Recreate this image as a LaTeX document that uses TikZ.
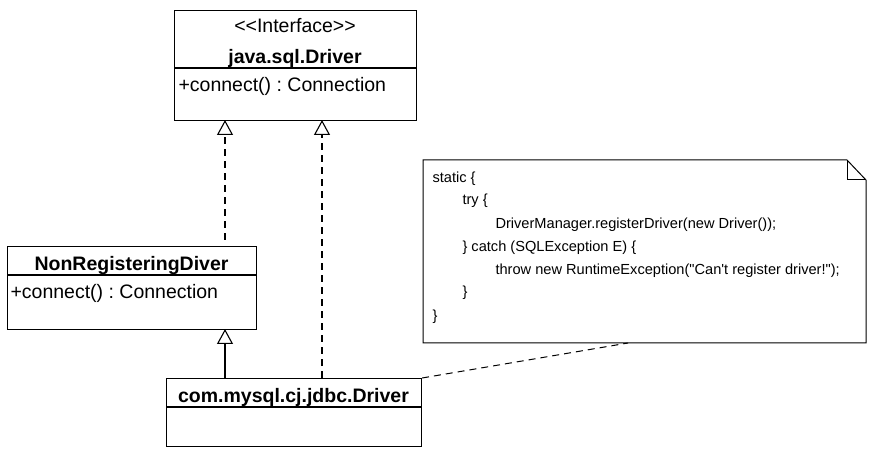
\documentclass[tikz,border=0pt]{standalone}
\usepackage{fontspec}
\setmainfont{Liberation Sans}
\newfontfamily\plainfont{Liberation Sans}
\frenchspacing
\usetikzlibrary{arrows.meta}
\begin{document}
\begin{tikzpicture}[x=1pt,y=-1pt,line width=1.1pt,
  cls/.style={draw,fill=white,rectangle,inner sep=0pt,anchor=north west},
  sep/.style={line width=1.1pt},
  big/.style={font=\plainfont\fontsize{19.5}{22}\selectfont,inner sep=0pt,anchor=base},
  bigb/.style={font=\fontsize{19.5}{22}\selectfont\bfseries,inner sep=0pt,anchor=base},
  meth/.style={font=\fontsize{19.5}{22}\selectfont,inner sep=0pt,anchor=base west},
  code/.style={font=\plainfont\fontsize{14.6}{17}\selectfont,inner sep=0pt,anchor=base west},
  realize/.style={dash pattern=on 7pt off 5pt,-{Triangle[open,length=15pt,width=16pt,fill=white]}},
  inherit/.style={-{Triangle[open,length=15pt,width=16pt,fill=white]}},
  notelink/.style={dash pattern=on 7pt off 5pt}]
\useasboundingbox (0,0) rectangle (879,457);
\fill[white] (0,0) rectangle (879,457);

% interface
\node[cls,minimum width=242pt,minimum height=110pt] (iface) at (174,10) {};
\draw[sep] (174,68) -- (416,68);
\node[big] (istereo) at (295,33) {<<Interface>>};
\node[bigb] (iname) at (295,64) {java.sql.Driver};
\node[meth] (imeth) at (178,92) {+connect() : Connection};

% NonRegisteringDiver
\node[cls,minimum width=249pt,minimum height=83pt] (nrd) at (7,246) {};
\draw[sep] (7,275) -- (256,275);
\node[bigb] (nrdname) at (131.5,271) {NonRegisteringDiver};
\node[meth] (nrdmeth) at (10,299) {+connect() : Connection};

% com.mysql.cj.jdbc.Driver
\node[cls,minimum width=255pt,minimum height=68pt] (drv) at (166,378) {};
\draw[sep] (166,407) -- (421,407);
\node[bigb] (drvname) at (293.5,402) {com.mysql.cj.jdbc.Driver};

% note
\node[rectangle,inner sep=0pt,minimum width=443pt,minimum height=183pt,anchor=north west] (note) at (423,160) {};
\draw[fill=white,line width=1pt] (423,160) -- (847,160) -- (866,180) -- (866,343) -- (423,343) -- cycle;
\draw[line width=1pt] (847,160) -- (847,180) -- (866,180);
\node[code] (l1) at (432,183) {static \{};
\node[code] (l2) at (462,205) {try \{};
\node[code] (l3) at (495,229) {DriverManager.registerDriver(new Driver());};
\node[code] (l4) at (462,252) {\} catch (SQLException E) \{};
\node[code] (l5) at (495,275) {throw new RuntimeException("Can't register driver!");};
\node[code] (l6) at (462,297) {\}};
\node[code] (l7) at (432,320) {\}};

% connectors
\coordinate (nrdtop) at (225,240);
\coordinate (ileft) at (225,120);
\coordinate (drvtopL) at (225,378);
\coordinate (nrdbot) at (225,329);
\coordinate (drvtopR) at (322,378);
\coordinate (iright) at (322,120);
\coordinate (notept) at (628,343);
\draw[realize] (nrdtop) -- (ileft);
\draw[realize] (drvtopR) -- (iright);
\draw[inherit] (drvtopL) -- (nrdbot);
\draw[notelink,line width=1pt] (drv.north east) -- (notept);
\end{tikzpicture}
\end{document}
